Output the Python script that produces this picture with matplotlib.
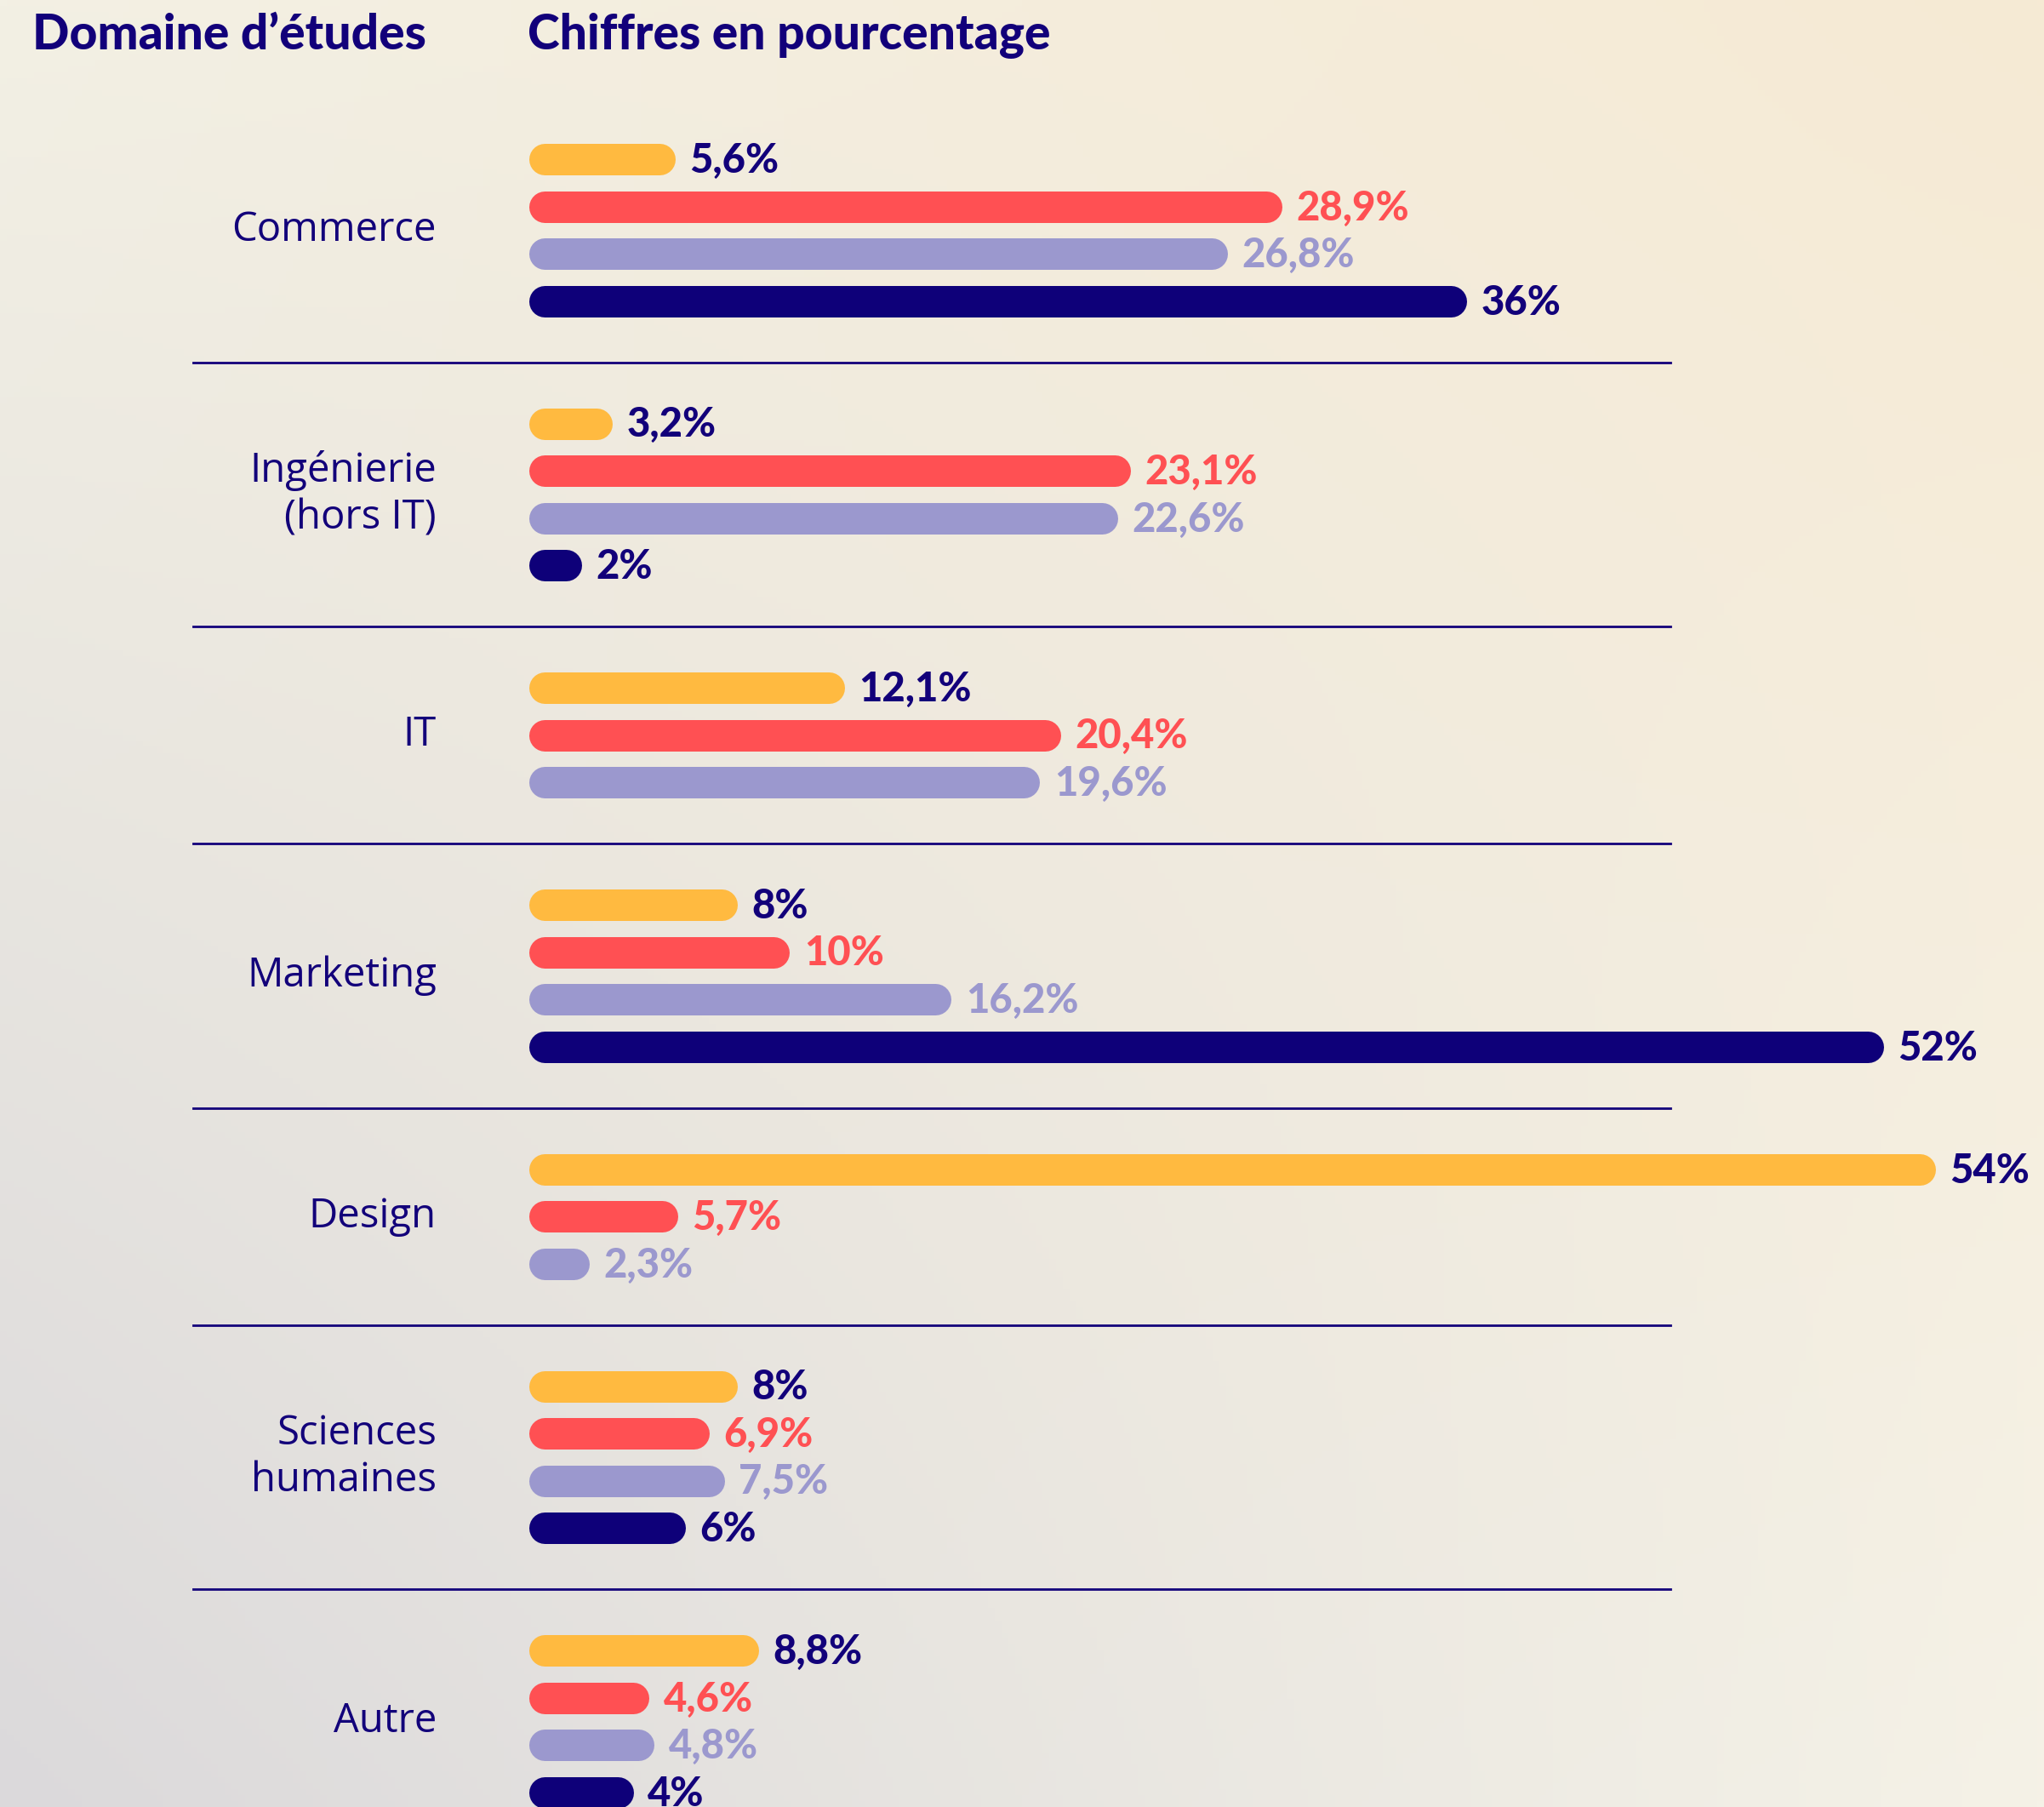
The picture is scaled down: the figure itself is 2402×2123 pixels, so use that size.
import numpy as np
import matplotlib.pyplot as plt

# data
categories = ["Commerce", "Ingénierie\n(hors IT)", "IT", "Marketing",
              "Design", "Sciences\nhumaines", "Autre"]
serie_jaune = [5.6, 3.2, 12.1, 8, 54, 8, 8.8]
serie_rouge = [28.9, 23.1, 20.4, 10, 5.7, 6.9, 4.6]
serie_lavande = [26.8, 22.6, 19.6, 16.2, 2.3, 7.5, 4.8]
serie_marine = [36, 2, None, 52, None, 6, 4]

series = [serie_jaune, serie_rouge, serie_lavande, serie_marine]
bar_colors = ["#FFBA40", "#FF5053", "#9B98CE", "#0E0079"]
label_colors = ["#12007A", "#FF5053", "#9B98CE", "#12007A"]
navy = "#12007A"

W, H = 2402, 2123
ppu = 30.6      # pixels per percent
x0 = 622        # pixel where bars start
bar_h = 37      # bar thickness in px
pitch = 55.5    # distance between bars
gap = 72        # from last bar to separator

fig = plt.figure(figsize=(W / 100, H / 100), dpi=100)
ax = fig.add_axes([0, 0, 1, 1])
ax.set_xlim(-x0 / ppu, (W - x0) / ppu)
ax.set_ylim(H, 0)
ax.axis("off")

# background gradient
gx, gy = np.meshgrid(np.linspace(0, 1, 300), np.linspace(0, 1, 300))
tl = np.array([0xF3, 0xF0, 0xE4]) / 255
tr = np.array([0xF6, 0xEA, 0xD4]) / 255
bl = np.array([0xDB, 0xD9, 0xDB]) / 255
br = np.array([0xF5, 0xF2, 0xE7]) / 255
grad = ((1 - gx)[..., None] * (1 - gy)[..., None] * tl + gx[..., None] * (1 - gy)[..., None] * tr
        + (1 - gx)[..., None] * gy[..., None] * bl + gx[..., None] * gy[..., None] * br)
ax.imshow(grad, extent=[-x0 / ppu, (W - x0) / ppu, H, 0], aspect="auto", zorder=0)

lw = bar_h * 72 / 100
r = (bar_h / 2) / ppu

def fmt(v):
    s = ("%g" % v).replace(".", ",")
    return s + "%"

y = 187
for gi, cat in enumerate(categories):
    ys = []
    for si, s in enumerate(series):
        v = s[gi]
        if v is None:
            continue
        ax.plot([r, max(v - r, r + 0.001)], [y, y], color=bar_colors[si], lw=lw,
                solid_capstyle="round", zorder=3)
        ax.text(v + 17 / ppu, y + 16, fmt(v), color=label_colors[si],
                fontsize=34, fontfamily="Lato", fontweight="black",
                ha="left", va="baseline", zorder=4)
        ys.append(y)
        y += pitch
    last = ys[-1]
    center = (ys[0] + last) / 2
    ax.text((513 - x0) / ppu, center, cat, color=navy, fontsize=34,
            fontfamily="Open Sans", ha="right", va="center", linespacing=1.2)
    if gi < len(categories) - 1:
        sep = last + gap
        ax.plot([(227 - x0) / ppu, (1963 - x0) / ppu], [sep, sep], color=navy,
                lw=2, zorder=2)
        y = last + 2 * gap

fig.text(38 / W, 1 - 58 / H, "Domaine d’études", color=navy, fontsize=41,
         fontfamily="Lato", fontweight="black", ha="left", va="baseline")
fig.text(620 / W, 1 - 58 / H, "Chiffres en pourcentage", color=navy, fontsize=41,
         fontfamily="Lato", fontweight="black", ha="left", va="baseline")

fig.savefig("out.png", dpi=100)
